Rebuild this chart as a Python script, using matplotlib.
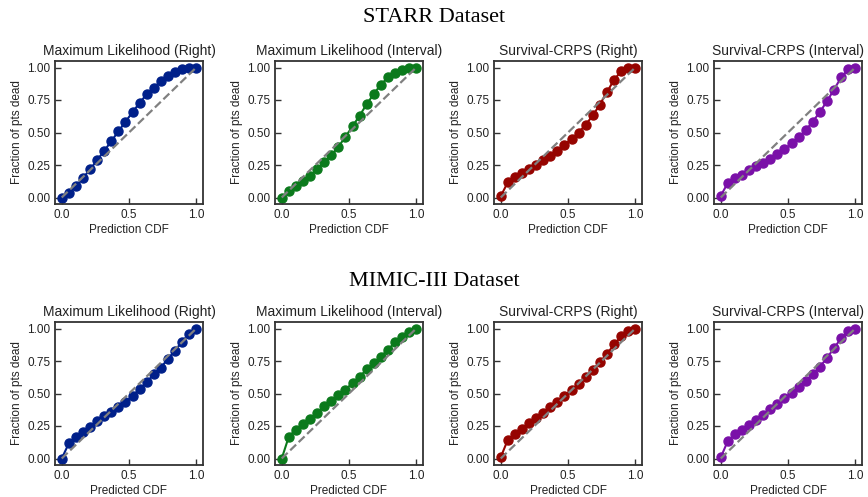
import matplotlib.pyplot as plt
import numpy as np

plt.rcParams['font.family'] = ['Liberation Sans', 'DejaVu Sans']

# 20 calibration bins, 0..1
cdf = np.linspace(0, 1, 20)

starr_ml_right = [0.0, 0.036, 0.087, 0.15, 0.216, 0.288, 0.359, 0.433, 0.509, 0.583,
                  0.656, 0.728, 0.794, 0.845, 0.896, 0.936, 0.967, 0.987, 1.0, 1.0]
starr_ml_interval = [0.0, 0.05, 0.09, 0.13, 0.167, 0.22, 0.27, 0.325, 0.39, 0.467,
                     0.548, 0.63, 0.718, 0.797, 0.868, 0.924, 0.954, 0.98, 0.995, 1.0]
starr_crps_right = [0.01, 0.117, 0.155, 0.188, 0.216, 0.249, 0.285, 0.323, 0.361, 0.405,
                    0.45, 0.5, 0.56, 0.631, 0.715, 0.81, 0.906, 0.97, 0.995, 1.0]
starr_crps_interval = [0.013, 0.112, 0.15, 0.175, 0.208, 0.239, 0.266, 0.3, 0.332, 0.37,
                       0.416, 0.462, 0.518, 0.584, 0.657, 0.741, 0.83, 0.924, 0.985, 1.0]

mimic_ml_right = [0.0, 0.116, 0.167, 0.203, 0.245, 0.289, 0.327, 0.354, 0.395, 0.435,
                  0.481, 0.537, 0.587, 0.648, 0.699, 0.767, 0.83, 0.899, 0.96, 1.0]
mimic_ml_interval = [0.0, 0.168, 0.223, 0.269, 0.305, 0.353, 0.404, 0.442, 0.487, 0.53,
                     0.581, 0.63, 0.685, 0.731, 0.784, 0.838, 0.893, 0.937, 0.975, 1.0]
mimic_crps_right = [0.01, 0.144, 0.19, 0.228, 0.276, 0.309, 0.352, 0.4, 0.438, 0.484,
                    0.524, 0.575, 0.628, 0.684, 0.742, 0.803, 0.878, 0.939, 0.982, 1.0]
mimic_crps_interval = [0.008, 0.135, 0.188, 0.221, 0.261, 0.294, 0.338, 0.381, 0.421, 0.462,
                       0.503, 0.548, 0.596, 0.65, 0.706, 0.772, 0.85, 0.924, 0.977, 1.0]

titles = ['Maximum Likelihood (Right)', 'Maximum Likelihood (Interval)',
          'Survival-CRPS (Right)', 'Survival-CRPS (Interval)']
colors = ['#00208a', '#0b7a1c', '#960400', '#7a10a8']

rows = [
    ('STARR Dataset', 'Prediction CDF',
     [starr_ml_right, starr_ml_interval, starr_crps_right, starr_crps_interval]),
    ('MIMIC-III Dataset', 'Predicted CDF',
     [mimic_ml_right, mimic_ml_interval, mimic_crps_right, mimic_crps_interval]),
]

W, H = 868, 497
fig = plt.figure(figsize=(W / 100, H / 100), dpi=100)

lefts = [55, 275, 494, 714]
tops = [61, 322]
aw, ah = 148, 143
suptitle_y = [18, 282]

for r, (name, xlabel, series) in enumerate(rows):
    fig.text(0.5, 1 - suptitle_y[r] / H, name, ha='center', va='center',
             fontsize=16, family='Liberation Serif')
    for c in range(4):
        ax = fig.add_axes([lefts[c] / W, 1 - (tops[r] + ah) / H, aw / W, ah / H])
        ax.plot([0, 1], [0, 1], '--', color='gray', lw=1.6, zorder=3)
        ax.plot(cdf, series[c], '-o', color=colors[c], ms=6.5, lw=1.5, zorder=2)
        ax.set_xlim(-0.05, 1.05)
        ax.set_ylim(-0.05, 1.05)
        ax.set_xticks([0, 0.5, 1.0])
        ax.set_yticks([0, 0.25, 0.5, 0.75, 1.0])
        ax.set_yticklabels(['0.00', '0.25', '0.50', '0.75', '1.00'])
        ax.tick_params(direction='in', labelsize=8.5, length=4, width=1,
                       colors='#333333', labelcolor='#222222')
        for s in ax.spines.values():
            s.set_color('#333333')
            s.set_linewidth(1.3)
        ax.set_title(titles[c], fontsize=10, color='#222222', pad=4)
        ax.set_xlabel(xlabel, fontsize=8.5, color='#222222', labelpad=2)
        ax.set_ylabel('Fraction of pts dead', fontsize=8.5, color='#222222', labelpad=3)

fig.savefig('out.png', dpi=100)
